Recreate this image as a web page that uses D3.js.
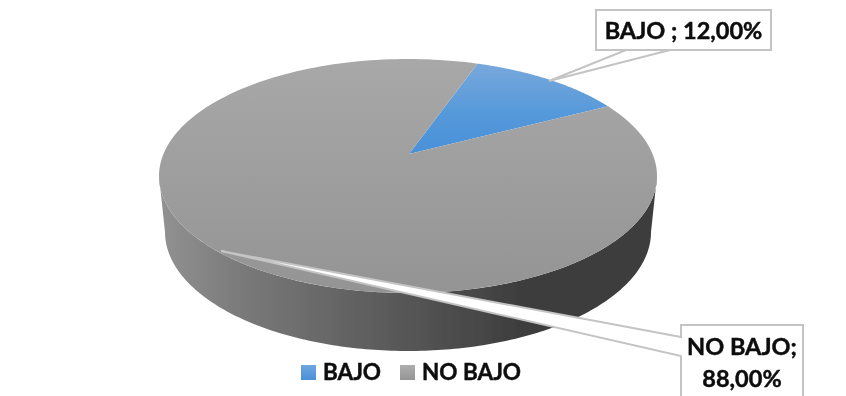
<!DOCTYPE html>
<html><head><meta charset="utf-8">
<script src="https://cdn.jsdelivr.net/npm/d3@7"></script>
<style>html,body{margin:0;padding:0;background:#fff;overflow:hidden}svg{display:block}text{font-family:Lato,"Open Sans",sans-serif;font-weight:700;fill:#0d0d0d;stroke:#0d0d0d;stroke-width:.45px}</style>
</head><body><svg id="c" width="846" height="396"></svg>
<script>
const categories = ["BAJO", "NO BAJO"];
const values = [12, 88];
const calloutLines = [["BAJO ; 12,00%"], ["NO BAJO;", "88,00%"]];

const W = 846, H = 396;
const cx = 408, cy = 176, rx = 249, ry = 117;
const baseRx = 243, baseRy = 119, baseCy = 232;
const persp = -0.188;
const startDeg = 19.5;

const svg = d3.select("#c").attr("viewBox", [0, 0, W, H]);
const defs = svg.append("defs");
function grad(id, dir, stops) {
  const g = defs.append("linearGradient").attr("id", id)
    .attr("x1", 0).attr("y1", 0).attr("x2", dir === "h" ? 1 : 0).attr("y2", dir === "h" ? 0 : 1);
  stops.forEach(s => g.append("stop").attr("offset", s[0]).attr("stop-color", s[1]));
}
grad("gBlue", "v", [[0, "#78a8dc"], [0.55, "#5599da"], [1, "#4a90d8"]]);
grad("gGrey", "v", [[0, "#a8a8a8"], [1, "#949494"]]);
grad("gSide", "h", [[0, "#929292"], [0.18, "#787878"], [0.5, "#565656"], [0.72, "#3e3e3e"], [1, "#3c3c3c"]]);
grad("gLegB", "v", [[0, "#6ea6e0"], [1, "#4a90d8"]]);
grad("gLegG", "v", [[0, "#adadad"], [1, "#959595"]]);
defs.append("filter").attr("id", "soft").append("feGaussianBlur").attr("stdDeviation", 0.45);

// Angles come from the pie layout; project a circle angle onto the tilted disc.
const pie = d3.pie().sort(null)
  .startAngle(startDeg * Math.PI / 180)
  .endAngle((startDeg + 360) * Math.PI / 180);
const arcs = pie(values);

function project(a) {
  const u = Math.sin(a), v = -Math.cos(a), w = 1 + persp * v;
  return [cx + rx * u * Math.sqrt(1 - persp * persp) / w, cy + ry * (v + persp) / w];
}
const apex = [cx + 1, cy + ry * persp];
const line = d3.line();
function slicePath(d) {
  const pts = d3.range(0, 1.0001, 1 / 180).map(t => project(d.startAngle + t * (d.endAngle - d.startAngle)));
  return line([apex, ...pts]) + "Z";
}

const root = svg.append("g").attr("filter", "url(#soft)");

// rim: upper disc edge plus the slightly smaller lower edge
const rimTop = d3.range(0, Math.PI + 0.0001, Math.PI / 180).map(t => [cx + rx * Math.cos(t), cy + ry * Math.sin(t)]);
const rimBot = d3.range(Math.PI, -0.0001, -Math.PI / 180).map(t => [cx + baseRx * Math.cos(t), baseCy + baseRy * Math.sin(t)]);
root.append("path").attr("d", line([...rimTop, ...rimBot]) + "Z").attr("fill", "url(#gSide)");

// top faces
const fills = ["url(#gBlue)", "url(#gGrey)"];
root.selectAll("path.s").data(arcs).join("path").attr("class", "s")
  .attr("d", slicePath).attr("fill", (d, i) => fills[i]);

// callouts
function callout(box, lead, tip, lines, fs, lh, firstY) {
  const p = [[box.x, box.y], [box.x + box.w, box.y], [box.x + box.w, box.y + box.h], [box.x, box.y + box.h]];
  const path = box.side === "bottom"
    ? [p[0], p[1], p[2], [lead[1], p[2][1]], tip, [lead[0], p[2][1]], p[3]]
    : [p[0], p[1], p[2], p[3], [p[0][0], lead[1]], tip, [p[0][0], lead[0]]];
  root.append("path").attr("d", line(path) + "Z")
    .attr("fill", "#fff").attr("stroke", box.stroke).attr("stroke-width", 2).attr("stroke-linejoin", "miter");
  lines.forEach((t, i) => root.append("text")
    .attr("x", box.x + box.w / 2).attr("y", firstY + i * lh)
    .attr("text-anchor", "middle").attr("font-size", fs).text(t));
}
callout({x: 596, y: 10, w: 175, h: 40, side: "bottom", stroke: "#c4c4c4"}, [670, 626], [549, 81], calloutLines[0], 23.5, 0, 39);
callout({x: 681, y: 325, w: 122, h: 90, side: "left", stroke: "#c4c4c4"}, [337, 356], [221, 251], calloutLines[1], 23.5, 32, 355);

// legend
const legendX = d3.scaleOrdinal().domain(categories).range([301, 400]);
const legFill = ["url(#gLegB)", "url(#gLegG)"];
categories.forEach((c, i) => {
  root.append("rect").attr("x", legendX(c)).attr("y", 365).attr("width", 15).attr("height", 15).attr("fill", legFill[i]);
  root.append("text").attr("x", legendX(c) + 22).attr("y", 380).attr("font-size", 22.5).text(c);
});
</script></body></html>
